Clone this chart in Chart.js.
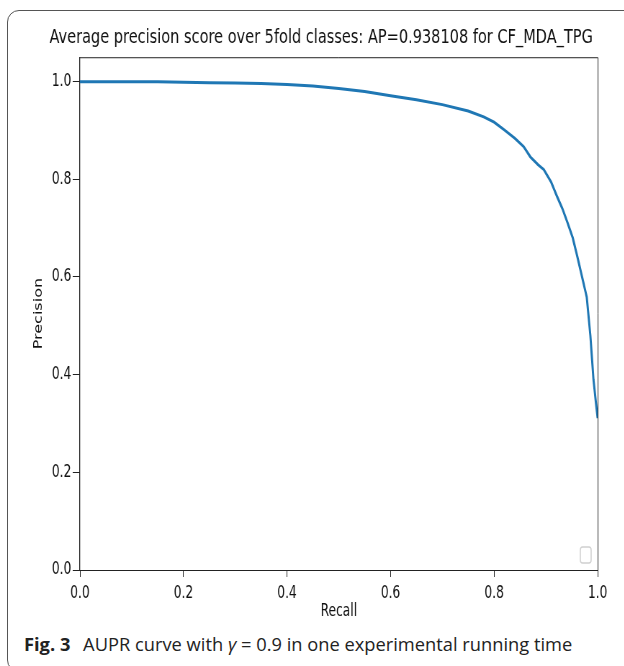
<!DOCTYPE html>
<html>
<head>
<meta charset="utf-8">
<script src="https://cdn.jsdelivr.net/npm/chart.js@4"></script>
<style>
  html, body { margin: 0; padding: 0; background: #fff; overflow: hidden; }
  body { width: 624px; height: 666px; position: relative; }
  .frame {
    position: absolute; left: 7px; top: 10px; width: 1000px; height: 660px;
    border: 1px solid #555; border-radius: 12px;
  }
  .plot {
    position: absolute; left: 0; top: 0; width: 867px; height: 622px;
    transform: scaleX(0.72); transform-origin: 0 0;
  }
  .caption {
    position: absolute; left: 24px; top: 631px; white-space: nowrap;
    font-family: "Open Sans", "Noto Sans", sans-serif; font-size: 18.3px; color: #222;
  }
  .caption b { font-weight: 700; margin-right: 8px; }
</style>
</head>
<body>
<div class="frame"></div>
<div class="plot"><canvas id="prChart" width="867" height="622"></canvas></div>
<div class="caption"><b>Fig. 3</b> AUPR curve with <i>γ</i> = 0.9 in one experimental running time</div>

<script>
// Curve values (recall -> precision)
const recall = [0, 0.05, 0.1, 0.15, 0.2, 0.25, 0.3, 0.35, 0.4, 0.45,
    0.5, 0.55, 0.6, 0.65, 0.7, 0.75, 0.78, 0.8, 0.82, 0.84,
    0.857, 0.87, 0.885, 0.896, 0.91, 0.922, 0.932, 0.942, 0.952, 0.961,
    0.97, 0.979, 0.986, 0.992, 0.997, 1.0];
const precision = [1.0, 1.0, 1.0, 1.0, 0.999, 0.998, 0.997, 0.996, 0.994, 0.991,
    0.986, 0.980, 0.971, 0.963, 0.953, 0.940, 0.928, 0.917, 0.901, 0.884,
    0.867, 0.846, 0.830, 0.820, 0.795, 0.764, 0.740, 0.711, 0.680, 0.641,
    0.600, 0.559, 0.48, 0.39, 0.34, 0.311];

const xTicks = [0, 0.2, 0.4, 0.6, 0.8, 1.0];
const yTicks = [0, 0.2, 0.4, 0.6, 0.8, 1.0];

const titleText = 'Average precision score over 5fold classes: AP=0.938108 for CF_MDA_TPG';

const FONT = "'DejaVu Sans', sans-serif";

// top/right spines and the empty legend frame
const spinesPlugin = {
    id: 'spines',
    afterDraw(chart) {
        const a = chart.chartArea;
        const ctx = chart.ctx;
        ctx.save();
        ctx.strokeStyle = '#222';
        ctx.lineWidth = 1;
        ctx.beginPath();
        ctx.moveTo(a.left, a.top + 0.5);
        ctx.lineTo(a.right + 0.5, a.top + 0.5);
        ctx.lineTo(a.right + 0.5, a.bottom);
        ctx.stroke();

        // empty legend box
        ctx.strokeStyle = '#d0d0d0';
        ctx.lineWidth = 1.5;
        ctx.beginPath();
        ctx.roundRect(a.right - 24, a.bottom - 23, 15, 16, 3);
        ctx.stroke();
        ctx.restore();
    }
};

new Chart(document.getElementById('prChart'), {
    type: 'scatter',
    data: {
        datasets: [{
            data: recall.map((r, i) => ({ x: r, y: precision[i] })),
            showLine: true,
            borderColor: '#1f77b4',
            borderWidth: 3,
            pointRadius: 0,
            tension: 0
        }]
    },
    options: {
        responsive: false,
        animation: false,
        layout: { padding: { left: 44, right: 19, top: 0, bottom: 0 } },
        plugins: {
            legend: { display: false },
            tooltip: { enabled: false },
            title: {
                display: true,
                text: titleText,
                color: '#111',
                font: { family: FONT, size: 20.2, weight: 'normal', lineHeight: 1.2 },
                padding: { top: 26, bottom: 7 }
            }
        },
        scales: {
            x: {
                type: 'linear',
                min: 0,
                max: 1,
                afterBuildTicks: s => { s.ticks = xTicks.map(v => ({ value: v })); },
                afterFit: s => { s.height = 52; },
                ticks: {
                    color: '#111',
                    font: { family: FONT, size: 17 },
                    padding: 6,
                    callback: v => v.toFixed(1)
                },
                grid: { drawOnChartArea: false, tickLength: 7, color: '#222', tickColor: '#222' },
                border: { color: '#222', width: 1 },
                title: {
                    display: true,
                    text: 'Recall',
                    color: '#111',
                    font: { family: FONT, size: 17 },
                    padding: { top: 2, bottom: 0 }
                }
            },
            y: {
                type: 'linear',
                min: 0,
                max: 1.05,
                afterBuildTicks: s => { s.ticks = yTicks.map(v => ({ value: v })); },
                afterFit: s => { s.width = 67; },
                ticks: {
                    color: '#111',
                    font: { family: FONT, size: 17 },
                    padding: 2,
                    callback: v => v.toFixed(1)
                },
                grid: { drawOnChartArea: false, tickLength: 10, color: '#222', tickColor: '#222' },
                border: { color: '#222', width: 1.3 },
                title: {
                    display: true,
                    text: 'Precision',
                    color: '#111',
                    font: { family: FONT, size: 16 },
                    padding: { top: 0, bottom: 0 }
                }
            },
            y2: {
                type: 'linear',
                position: 'right',
                min: 0,
                max: 1.05,
                afterFit: s => { s.width = 18; },
                ticks: { display: false },
                grid: { display: false },
                border: { display: false }
            }
        }
    },
    plugins: [spinesPlugin]
});
</script>
</body>
</html>
